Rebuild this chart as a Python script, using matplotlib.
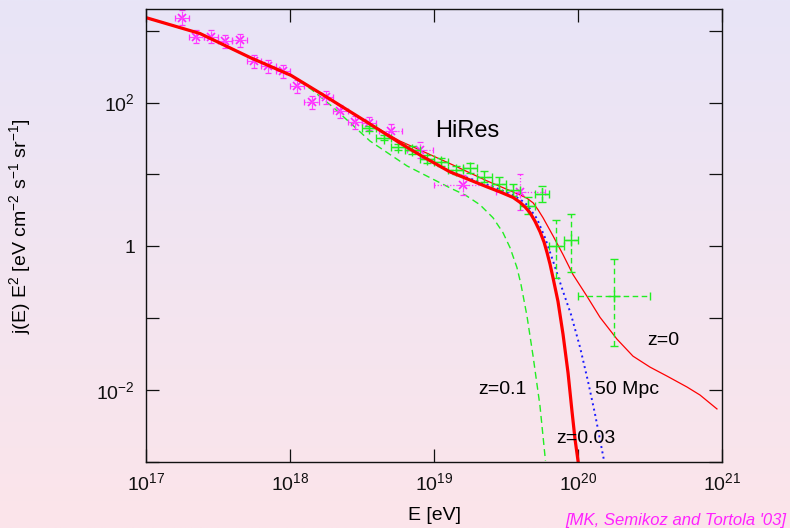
import numpy as np
import matplotlib
matplotlib.use("Agg")
import matplotlib.pyplot as plt
from matplotlib.ticker import FixedLocator, FuncFormatter, NullLocator

plt.rcParams['font.family'] = ['Liberation Sans', 'DejaVu Sans']
plt.rcParams['mathtext.fontset'] = 'custom'
plt.rcParams['mathtext.rm'] = 'Liberation Sans'
plt.rcParams['mathtext.it'] = 'Liberation Sans:italic'

# model spectra, log10(E/eV) vs log10(E^2 j)
z003_logE = [17.000, 17.375, 17.722, 18.007, 18.257, 18.535, 18.764, 18.903, 19.111,
             19.368, 19.458, 19.549, 19.597, 19.632, 19.667, 19.701, 19.736, 19.764,
             19.785, 19.806, 19.826, 19.861, 19.896, 19.931, 19.958, 19.979, 20.000]
z003_logJ = [3.181, 2.960, 2.627, 2.378, 2.073, 1.727, 1.436, 1.270, 1.035,
             0.827, 0.757, 0.680, 0.612, 0.548, 0.467, 0.350, 0.204, 0.060,
             -0.087, -0.250, -0.433, -0.766, -1.223, -1.763, -2.289, -2.677, -2.982]

mpc50_logE = [17.000, 17.375, 17.722, 18.007, 18.257, 18.535, 18.764, 18.903, 19.111,
              19.368, 19.458, 19.549, 19.597, 19.646, 19.715, 19.771, 19.826, 19.896,
              19.951, 20.014, 20.069, 20.118, 20.181]
mpc50_logJ = [3.181, 2.960, 2.627, 2.378, 2.073, 1.727, 1.436, 1.270, 1.040,
              0.860, 0.790, 0.710, 0.655, 0.578, 0.385, 0.120, -0.200, -0.627,
              -0.946, -1.403, -1.874, -2.331, -2.982]

z0_logE = [17.000, 17.375, 17.722, 18.007, 18.257, 18.535, 18.764, 18.903, 19.132,
           19.368, 19.597, 19.646, 19.688, 19.722, 19.757, 19.826, 19.896, 19.965,
           20.063, 20.153, 20.271, 20.382, 20.500, 20.618, 20.757, 20.847, 20.965]
z0_logJ = [3.181, 2.960, 2.627, 2.378, 2.073, 1.727, 1.464, 1.339, 1.131,
           0.910, 0.716, 0.668, 0.605, 0.510, 0.398, 0.148, -0.115, -0.392,
           -0.697, -0.988, -1.292, -1.528, -1.680, -1.805, -1.957, -2.068, -2.262]

z01_logE = [17.000, 17.375, 17.722, 18.007, 18.150, 18.299, 18.556, 18.813, 19.111,
            19.220, 19.319, 19.410, 19.479, 19.528, 19.576, 19.604, 19.646, 19.688,
            19.736, 19.774]
z01_logJ = [3.181, 2.960, 2.627, 2.378, 2.180, 1.935, 1.464, 1.118, 0.813,
            0.710, 0.578, 0.397, 0.190, -0.018, -0.295, -0.530, -0.973, -1.527,
            -2.220, -2.982]

# HiRes data
hires_logE = [17.25, 17.35, 17.45, 17.55, 17.65, 17.75, 17.85, 17.95, 18.05,
              18.15, 18.25, 18.35, 18.45, 18.55, 18.70, 18.90, 19.20, 19.60]
hires_logJ = [3.181, 2.918, 2.918, 2.849, 2.863, 2.572, 2.503, 2.433, 2.226,
              2.004, 2.073, 1.879, 1.727, 1.713, 1.602, 1.339, 0.855, 0.758]
hires_dlogE = [0.05, 0.05, 0.05, 0.05, 0.05, 0.05, 0.05, 0.05, 0.05,
               0.05, 0.05, 0.05, 0.05, 0.05, 0.08, 0.09, 0.20, 0.17]
hires_dlogJ = [0.10, 0.09, 0.09, 0.09, 0.09, 0.09, 0.09, 0.09, 0.09,
               0.09, 0.09, 0.09, 0.09, 0.09, 0.10, 0.11, 0.14, 0.25]

# AGASA data
agasa_logE = [18.55, 18.65, 18.75, 18.85, 18.95, 19.05, 19.15, 19.25, 19.35,
              19.45, 19.55, 19.65, 19.75, 19.85, 19.95, 20.25]
agasa_logJ = [1.640, 1.512, 1.385, 1.339, 1.215, 1.173, 1.062, 1.086, 0.970,
              0.868, 0.785, 0.564, 0.730, 0.003, 0.086, -0.693]
agasa_dlogE = [0.05] * 15 + [0.25]
agasa_dlogJ_lo = [0.04, 0.04, 0.04, 0.05, 0.05, 0.05, 0.06, 0.07, 0.08,
                  0.09, 0.08, 0.12, 0.11, 0.45, 0.45, 0.69]
agasa_dlogJ_hi = [0.04, 0.04, 0.04, 0.05, 0.05, 0.05, 0.06, 0.07, 0.08,
                  0.09, 0.08, 0.12, 0.11, 0.37, 0.36, 0.52]


def p10(a):
    return np.power(10.0, np.asarray(a, dtype=float))


def log_err(center, lo, hi):
    c = np.asarray(center, dtype=float)
    return [p10(c) - p10(c - np.asarray(lo)), p10(c + np.asarray(hi)) - p10(c)]


fig = plt.figure(figsize=(7.9, 5.28), dpi=100)

# vertical lavender -> pink backdrop
bg = fig.add_axes([0, 0, 1, 1], zorder=-10)
top = np.array([232, 229, 247]) / 255.0
bot = np.array([252, 228, 234]) / 255.0
t = np.linspace(0, 1, 256)[:, None, None]
grad = top * (1 - t) + bot * t
bg.imshow(np.repeat(grad, 2, axis=1), aspect='auto', extent=[0, 1, 0, 1])
bg.axis('off')

ax = fig.add_axes([146 / 790, 1 - 462 / 528, 576 / 790, 453 / 528])
ax.set_facecolor('none')
ax.set_xscale('log')
ax.set_yscale('log')

ax.plot(p10(z01_logE), p10(z01_logJ), color='#22ee22', lw=1.0, ls=(0, (5, 3)))
ax.plot(p10(mpc50_logE), p10(mpc50_logJ), color='#1a1aff', lw=1.4, ls=(0, (1, 1.8)))
ax.plot(p10(z0_logE), p10(z0_logJ), color='#ff0000', lw=0.9)

ax.errorbar(p10(hires_logE), p10(hires_logJ),
            xerr=log_err(hires_logE, hires_dlogE, hires_dlogE),
            yerr=log_err(hires_logJ, hires_dlogJ, hires_dlogJ),
            fmt='none', ecolor='#ff33ff', elinewidth=0.9, capsize=2.5, capthick=0.9)
for bars in ax.containers[-1].lines[2]:
    bars.set_linestyle((0, (1, 1.5)))
ax.plot(p10(hires_logE), p10(hires_logJ), ls='none', marker='x', ms=6,
        mew=1.2, color='#ff22ff')
ax.plot(p10(hires_logE), p10(hires_logJ), ls='none', marker='+', ms=8,
        mew=0.8, color='#ff44ff')

ax.errorbar(p10(agasa_logE), p10(agasa_logJ),
            xerr=log_err(agasa_logE, agasa_dlogE, agasa_dlogE),
            yerr=log_err(agasa_logJ, agasa_dlogJ_lo, agasa_dlogJ_hi),
            fmt='none', ecolor='#22ee22', elinewidth=1.0, capsize=3, capthick=1.0)
for bars in ax.containers[-1].lines[2]:
    bars.set_linestyle((0, (4, 2.5)))
ax.plot(p10(agasa_logE), p10(agasa_logJ), ls='none', marker='+', ms=9,
        mew=1.0, color='#22ee22')

ax.plot(p10(z003_logE), p10(z003_logJ), color='#ff0000', lw=2.3)

ax.set_xlim(1e17, 1e21)
ax.set_ylim(1e-3, 2e3)

ax.xaxis.set_major_locator(FixedLocator(p10(np.arange(17, 22))))
ax.yaxis.set_major_locator(FixedLocator(p10(np.arange(-3, 4))))
ax.xaxis.set_minor_locator(NullLocator())
ax.yaxis.set_minor_locator(NullLocator())


def xfmt(v, pos):
    return r'$10^{%d}$' % round(np.log10(v))


def yfmt(v, pos):
    n = round(np.log10(v))
    if n % 2:
        return ''
    if n == 0:
        return '1'
    return r'$10^{%d}$' % n


ax.xaxis.set_major_formatter(FuncFormatter(xfmt))
ax.yaxis.set_major_formatter(FuncFormatter(yfmt))
ax.tick_params(which='major', direction='in', length=9.5, width=0.9,
               top=True, right=True, labelsize=14, colors='#111111')
ax.tick_params(axis='x', pad=7)
ax.tick_params(axis='y', pad=8)
for s in ax.spines.values():
    s.set_linewidth(1.0)
    s.set_color('#111111')

ax.set_xlabel('E [eV]', fontsize=14)
ax.xaxis.set_label_coords(0.5, -0.100)
ax.set_ylabel(r'j(E) E$^{2}$ [eV cm$^{-2}$ s$^{-1}$ sr$^{-1}$]', fontsize=14)
ax.yaxis.set_label_coords(-0.196, 0.52)

ax.text(p10(19.007), p10(1.603), 'HiRes', fontsize=17, va='center', ha='left')
ax.text(p10(20.479), p10(-1.316), 'z=0', fontsize=14, va='center', ha='left')
ax.text(p10(20.118), p10(-1.985), '50 Mpc', fontsize=14, va='center', ha='left')
ax.text(p10(19.308), p10(-1.985), 'z=0.1', fontsize=14, va='center', ha='left')
ax.text(p10(19.852), p10(-2.677), 'z=0.03', fontsize=14, va='center', ha='left')

fig.text(565 / 790, 1 - 520 / 528, "[MK, Semikoz and Tortola '03]", fontsize=12,
         style='italic', color='#ff22ff', ha='left', va='center')

fig.savefig('out.png', dpi=100)
